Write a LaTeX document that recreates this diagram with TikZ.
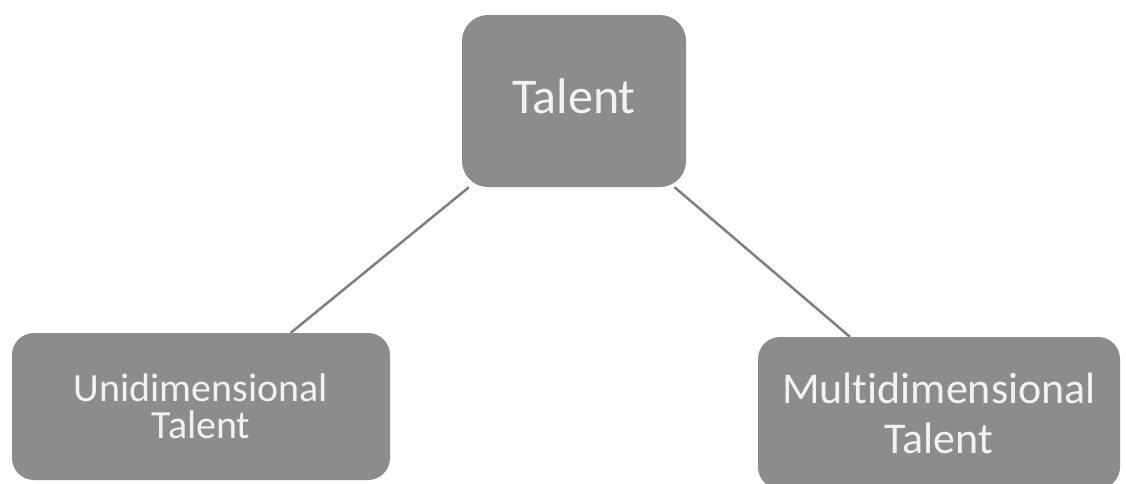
\documentclass[tikz,border=0pt]{standalone}
\usepackage{fontspec}
\setmainfont{Carlito}[Ligatures={NoCommon,NoContextual}]
\definecolor{boxgray}{HTML}{8C8C8C}
\definecolor{txtgray}{HTML}{F2F2F2}
\definecolor{linegray}{HTML}{7F7F7F}
\tikzset{
  gbox/.style={fill=boxgray, draw=none, text=txtgray, align=center, inner sep=0pt},
  conn/.style={draw=linegray, line width=2.5pt}
}
\begin{document}
\begin{tikzpicture}[x=1pt,y=-1pt]
\useasboundingbox[fill=white] (0,0) rectangle (1126,483);
\node[gbox, minimum width=224pt, minimum height=172pt, rounded corners=26pt,
      font=\fontsize{50}{60}\selectfont, text depth=9pt] (t) at (574,101) {Talent};
\node[gbox, minimum width=378pt, minimum height=147pt, rounded corners=22pt,
      font=\fontsize{40}{37}\selectfont] (u) at (201,406.5) {Unidimensional\\Talent};
\node[gbox, minimum width=362pt, minimum height=152pt, rounded corners=22pt,
      font=\fontsize{44}{50}\selectfont] (m) at (939,413) {Multidimensional\\Talent};
\draw[conn] (t) -- (u);
\draw[conn] (t) -- (m);
\end{tikzpicture}
\end{document}
